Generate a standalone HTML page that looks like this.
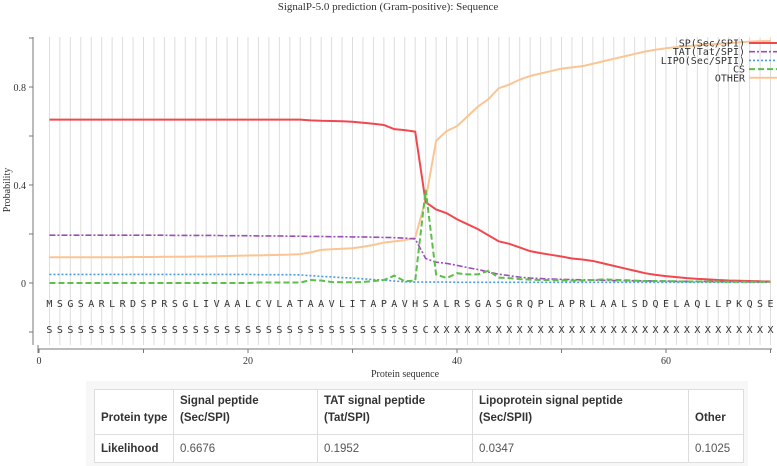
<!DOCTYPE html>
<html><head><meta charset="utf-8"><style>
body{margin:0;width:777px;height:466px;background:#fff;overflow:hidden;font-family:"Liberation Sans",sans-serif}
#wrap{position:absolute;left:86px;top:381px;width:662px;height:85px;background:#f7f7f7}
table{position:absolute;left:94px;top:389px;width:649px;table-layout:fixed;border-collapse:collapse;font-size:11.5px;color:#333;background:#fff}
td,th{border:1px solid #ddd;padding:0 6px;text-align:left;white-space:nowrap;overflow:hidden;box-sizing:border-box}
th{font-weight:bold;height:45px;vertical-align:bottom;padding-bottom:7px;line-height:17px}
td{height:28px;color:#555;vertical-align:middle}
td.b{font-weight:bold;color:#333}
</style></head><body>
<svg id="chart" width="777" height="380" style="position:absolute;left:0;top:0" font-family="Liberation Serif, serif">
<text x="388" y="10" text-anchor="middle" font-size="11" fill="#333">SignalP-5.0 prediction (Gram-positive):  Sequence</text>
<g id="grid"></g>
<g id="axes"></g>
<g id="series"></g>
<g id="legend"></g>
</svg>
<div id="wrap"></div>
<table>
<colgroup><col style="width:79px"><col style="width:144px"><col style="width:155px"><col style="width:216px"><col style="width:55px"></colgroup>
<tr><th>Protein type</th><th>Signal peptide<br>(Sec/SPI)</th><th>TAT signal peptide<br>(Tat/SPI)</th><th>Lipoprotein signal peptide<br>(Sec/SPII)</th><th>Other</th></tr>
<tr><td class="b">Likelihood</td><td>0.6676</td><td>0.1952</td><td>0.0347</td><td>0.1025</td></tr>
</table>
<script>
const sequence = "MSGSARLRDSPRSGLIVAALCVLATAAVLITAPAVHSALRSGASGRQPLAPRLAALSDQELAQLLPKQSE".split("");
const labels = "SSSSSSSSSSSSSSSSSSSSSSSSSSSSSSSSSSSSCXXXXXXXXXXXXXXXXXXXXXXXXXXXXXXXXX".split("");
const sp = [0.667,0.667,0.667,0.667,0.667,0.667,0.667,0.667,0.667,0.667,0.667,0.667,0.667,0.667,0.667,0.667,0.667,0.667,0.667,0.667,0.667,0.667,0.667,0.667,0.667,0.664,0.662,0.661,0.66,0.658,0.654,0.65,0.645,0.628,0.624,0.618,0.33,0.30,0.285,0.26,0.24,0.22,0.195,0.17,0.16,0.145,0.13,0.122,0.115,0.108,0.1,0.096,0.09,0.08,0.07,0.06,0.05,0.04,0.033,0.028,0.024,0.02,0.017,0.015,0.012,0.01,0.009,0.008,0.007,0.006];
const tat = [0.195,0.195,0.195,0.195,0.195,0.195,0.195,0.195,0.195,0.195,0.195,0.195,0.194,0.194,0.194,0.194,0.194,0.193,0.193,0.193,0.192,0.192,0.192,0.191,0.191,0.19,0.19,0.189,0.189,0.188,0.188,0.187,0.186,0.185,0.183,0.18,0.1,0.085,0.08,0.072,0.063,0.055,0.045,0.036,0.03,0.024,0.02,0.018,0.016,0.015,0.014,0.013,0.012,0.011,0.01,0.01,0.009,0.009,0.008,0.008,0.007,0.007,0.007,0.006,0.006,0.006,0.006,0.005,0.005,0.005];
const lipo = [0.035,0.035,0.035,0.035,0.035,0.035,0.035,0.035,0.035,0.035,0.035,0.035,0.035,0.035,0.035,0.035,0.035,0.035,0.035,0.035,0.034,0.034,0.034,0.034,0.033,0.03,0.027,0.025,0.022,0.02,0.017,0.014,0.012,0.008,0.005,0.004,0.004,0.004,0.004,0.003,0.003,0.003,0.003,0.003,0.003,0.003,0.003,0.003,0.003,0.003,0.003,0.003,0.003,0.003,0.003,0.003,0.003,0.003,0.003,0.003,0.003,0.003,0.003,0.003,0.003,0.003,0.003,0.003,0.003,0.003];
const cs = [0,0,0,0,0,0,0,0,0,0,0,0,0,0,0,0,0,0,0,0,0.002,0.002,0.002,0.002,0.002,0.012,0.01,0.004,0.003,0.003,0.004,0.008,0.012,0.03,0.007,0.01,0.38,0.035,0.02,0.04,0.035,0.035,0.05,0.022,0.02,0.016,0.014,0.012,0.012,0.011,0.01,0.01,0.012,0.015,0.013,0.012,0.01,0.008,0.008,0.007,0.007,0.006,0.006,0.006,0.006,0.005,0.005,0.005,0.005,0.005];
const other = [0.105,0.105,0.105,0.105,0.105,0.105,0.105,0.105,0.106,0.106,0.106,0.107,0.107,0.107,0.108,0.108,0.109,0.11,0.111,0.112,0.113,0.114,0.115,0.116,0.118,0.125,0.135,0.138,0.14,0.142,0.148,0.155,0.165,0.17,0.175,0.185,0.34,0.58,0.62,0.64,0.68,0.72,0.75,0.795,0.81,0.83,0.845,0.855,0.865,0.875,0.88,0.885,0.895,0.905,0.915,0.925,0.935,0.945,0.952,0.958,0.963,0.967,0.97,0.973,0.976,0.979,0.982,0.985,0.987,0.988];
const yTicks = [0,0.4,0.8];
const xTicks = [0,20,40,60];
const NS="http://www.w3.org/2000/svg";
const X = v => 39 + v*10.45;
const Y = v => 283 - v*245;
function mk(tag, attrs, parent){const e=document.createElementNS(NS,tag);for(const k in attrs)e.setAttribute(k,attrs[k]);parent.appendChild(e);return e;}
const grid=document.getElementById('grid'), axes=document.getElementById('axes'), ser=document.getElementById('series'), leg=document.getElementById('legend');
for(let i=1;i<=sequence.length;i++){
  const l=mk('line',{x1:X(i),x2:X(i),y1:37,y2:345,stroke:'#ddd','stroke-width':1},grid);
  
  
  const t=mk('text',{x:X(i),y:307,'text-anchor':'middle','font-size':10,'font-family':'DejaVu Sans Mono, monospace',fill:'#333'},grid);
  t.textContent=sequence[i-1];
  
  
  const s=mk('text',{x:X(i),y:333,'text-anchor':'middle','font-size':10,'font-family':'DejaVu Sans Mono, monospace',fill:'#333'},grid);
  s.textContent=labels[i-1];
  
  
}
const ya=mk('line',{x1:33,x2:33,y1:37,y2:345,stroke:'#777'},axes);


[1,0.6,0.2,-0.2].forEach(v=>mk('line',{x1:29,x2:33,y1:Y(v),y2:Y(v),stroke:'#777'},axes));
yTicks.forEach(v=>{mk('line',{x1:29,x2:33,y1:Y(v),y2:Y(v),stroke:'#777'},axes);
  const t=mk('text',{x:26,y:Y(v)+4,'text-anchor':'end','font-size':10,fill:'#333'},axes);t.textContent=String(v);
  
  });
const xa=mk('line',{x1:38,x2:772,y1:349,y2:349,stroke:'#777'},axes);


[0,10,20,30,40,50,60,70].forEach(v=>mk('line',{x1:X(v),x2:X(v),y1:349,y2:353,stroke:'#777'},axes));
mk('line',{x1:38,x2:38,y1:345,y2:353,stroke:'#777'},axes);
xTicks.forEach(v=>{const t=mk('text',{x:X(v),y:364,'text-anchor':'middle','font-size':10,fill:'#333'},axes);t.textContent=String(v);
  
  });
const xt=mk('text',{x:405,y:377,'text-anchor':'middle','font-size':10,fill:'#333'},axes);xt.textContent='Protein sequence';


const yt=mk('text',{x:10,y:190,'text-anchor':'middle','font-size':10,fill:'#333',transform:'rotate(-90 10 190)'},axes);yt.textContent='Probability';


const defs=[
 {name:'SP(Sec/SPI)',d:sp,c:'#f0484e',dash:'',w:2,id:'sp'},
 {name:'TAT(Tat/SPI)',d:tat,c:'#9b4fb5',dash:'6,2,2,2',w:1.6,id:'tat'},
 {name:'LIPO(Sec/SPII)',d:lipo,c:'#4a9be0',dash:'2,2',w:1.6,id:'lipo'},
 {name:'CS',d:cs,c:'#5cbf4a',dash:'6,3',w:2,id:'cs'},
 {name:'OTHER',d:other,c:'#fbc593',dash:'',w:2,id:'other'}];
const order=[4,1,2,0,3];
order.forEach(k=>{const s=defs[k];
  const p=mk('polyline',{points:s.d.map((v,i)=>X(i+1)+','+Y(v)).join(' '),fill:'none',stroke:s.c,'stroke-width':s.w,'stroke-dasharray':s.dash},ser);
  
  });
defs.forEach((s,i)=>{const y=43+i*8.7;
  const t=mk('text',{x:745,y:y+3.5,'text-anchor':'end','font-size':10,'font-family':'DejaVu Sans Mono, monospace',fill:'#333'},leg);t.textContent=s.name;
  
  
  mk('line',{x1:749,x2:777,y1:y,y2:y,stroke:s.c,'stroke-width':s.w,'stroke-dasharray':s.dash},leg);});
</script>
</body></html>
